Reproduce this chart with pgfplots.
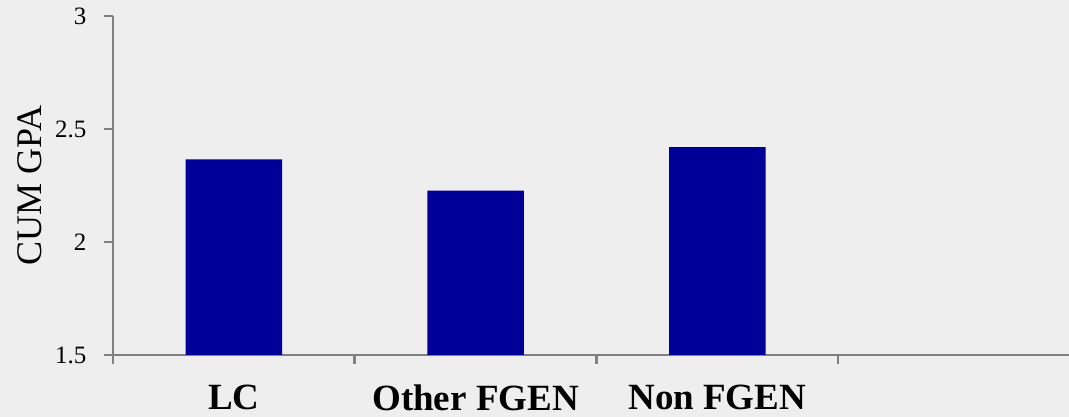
\documentclass[border=0pt]{standalone}
\usepackage{fontspec}
\setmainfont{Liberation Serif}
\usepackage{pgfplots}
\pgfplotsset{compat=1.18}
\definecolor{barblue}{RGB}{0,0,153}
\definecolor{axisgray}{RGB}{128,128,128}
\definecolor{paper}{RGB}{238,238,238}
\begin{document}
\begin{tikzpicture}
\useasboundingbox (0,0) rectangle (1069pt,417pt);
\fill[paper] (0,0) rectangle (1069pt,417pt);
\begin{axis}[
  at={(113pt,62pt)}, anchor=south west,
  scale only axis,
  width=962pt, height=339pt,
  xmin=-0.5, xmax=3.48,
  ymin=1.5, ymax=3,
  ytick={1.5,2,2.5,3},
  xtick={-0.5,0.5,1.5,2.5},
  x tick label as interval,
  xticklabels={LC,Other FGEN,Non FGEN},
  axis x line*=bottom,
  axis y line*=left,
  every axis x line/.append style={draw=axisgray, line width=2.7pt},
  every axis y line/.append style={draw=axisgray, line width=2.7pt},
  axis line style={draw=axisgray, line width=2.7pt},
  every tick/.append style={draw=axisgray, line width=2.7pt},
  major tick style={draw=axisgray, line width=2.7pt},
  tick align=outside,
  major tick length=9pt,
  yticklabel shift=14pt,
  xticklabel shift=17pt,
  /pgf/number format/assume math mode=true,
  yticklabel style={font=\fontsize{25}{28}\selectfont, anchor=east},
  xticklabel style={font=\fontsize{37}{42}\selectfont\bfseries, anchor=north},
  ylabel={CUM GPA},
  every axis y label/.style={at={(axis description cs:0,0.5)}, xshift=-83pt, rotate=90, anchor=center, font=\fontsize{36}{40}\selectfont},
  clip=false,
]
\addplot[ybar, bar width=96.5pt, fill=barblue, draw=none] coordinates {
  (0,2.366) (1,2.227) (2,2.42)
};
\end{axis}
\end{tikzpicture}
\end{document}
